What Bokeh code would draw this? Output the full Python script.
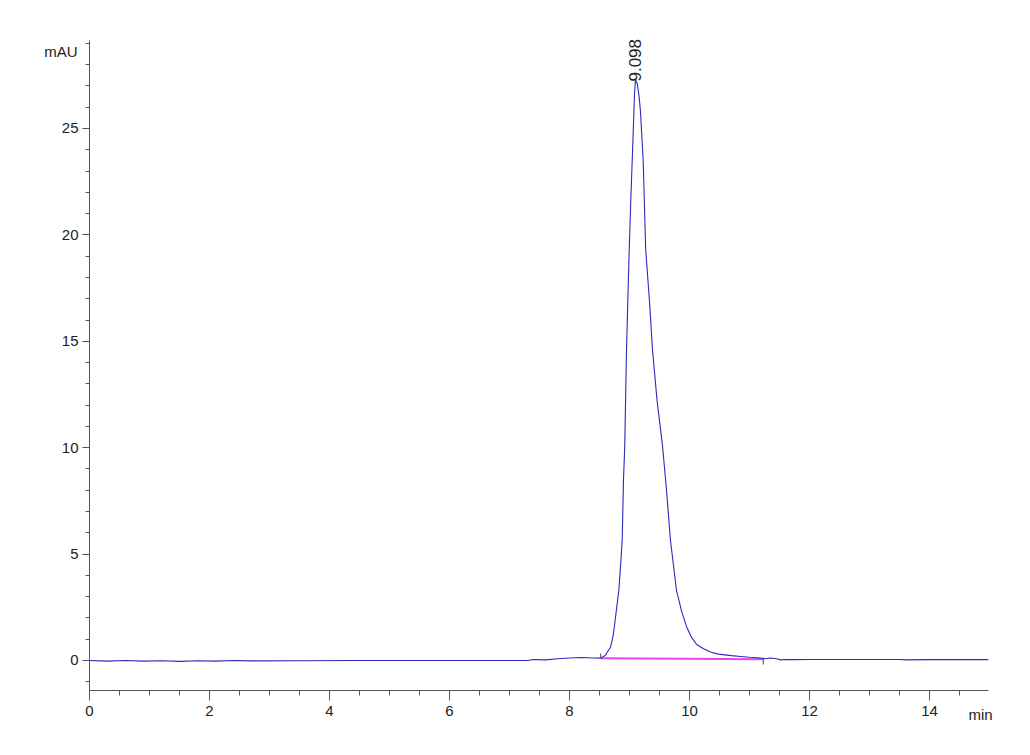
import math
from bokeh.plotting import figure
from bokeh.models import SingleIntervalTicker, Range1d
from bokeh.core.properties import value
from bokeh.embed import file_html
from bokeh.resources import INLINE

# ---- data ----
time_min = [0.0, 0.3, 0.6, 0.9, 1.2, 1.5, 1.8, 2.1, 2.4, 2.7, 3.5, 4.5, 5.5, 6.5, 7.3,
            7.4, 7.6, 7.8, 8.0, 8.2, 8.4, 8.52, 8.545, 8.6, 8.62, 8.683, 8.73, 8.767,
            8.80, 8.822, 8.85, 8.878, 8.90, 8.92, 8.95, 8.99, 9.02, 9.045, 9.07, 9.083,
            9.10, 9.13, 9.16, 9.183, 9.228, 9.27, 9.333, 9.383, 9.46, 9.55, 9.617,
            9.683, 9.783, 9.87, 9.95, 10.03, 10.12, 10.233, 10.35, 10.48, 10.7, 10.85,
            11.0, 11.18, 11.25, 11.35, 11.45, 11.52, 11.6, 11.7, 12.0, 13.0, 13.5,
            13.6, 14.0, 14.98]
signal_mau = [0.0, -0.03, 0.0, -0.03, -0.01, -0.04, -0.01, -0.03, 0.0, -0.02, -0.01, 0.0,
              0.0, 0.0, 0.0, 0.05, 0.03, 0.08, 0.12, 0.14, 0.12, 0.11, 0.15, 0.25, 0.35,
              0.62, 1.2, 2.03, 2.8, 3.29, 4.4, 5.64, 8.5, 10.0, 14.57, 18.8, 21.5, 23.5,
              25.5, 26.6, 27.3, 27.1, 26.5, 25.8, 23.5, 19.3, 16.9, 14.6, 12.2, 10.1,
              8.0, 5.64, 3.29, 2.3, 1.6, 1.1, 0.75, 0.55, 0.4, 0.3, 0.23, 0.19, 0.15,
              0.11, 0.08, 0.12, 0.08, 0.03, 0.05, 0.04, 0.05, 0.05, 0.05, 0.03, 0.04,
              0.04]

baseline_x = [8.52, 11.22]
baseline_y = [0.11, 0.06]

event_x = [8.52, 11.23]
event_y0 = [0.13, 0.14]
event_y1 = [0.33, -0.19]

peak_rt = 9.098
peak_height = 27.3
peak_label = "9.098"

x_axis_span = (0.0, 14.99)
y_axis_span = (-1.41, 29.14)

FONT = "Liberation Sans"
TXT = "#222222"
AX = "#555555"

# frame deliberately larger than the axes so unit labels are not clipped
p = figure(frame_width=970, frame_height=703, output_backend="svg",
           toolbar_location=None,
           x_range=Range1d(-0.8167, 15.35), y_range=Range1d(-2.961, 30.075),
           min_border_left=40, min_border_right=10, min_border_top=20,
           min_border_bottom=0)
p.outline_line_color = None
p.xgrid.visible = False
p.ygrid.visible = False
p.background_fill_color = "white"

# axes, pinned to the data origin / bottom of the scale
p.xaxis.fixed_location = y_axis_span[0]
p.yaxis.fixed_location = x_axis_span[0]
p.xaxis.bounds = x_axis_span
p.yaxis.bounds = y_axis_span
p.xaxis.ticker = SingleIntervalTicker(interval=2, num_minor_ticks=4)
p.yaxis.ticker = SingleIntervalTicker(interval=5, num_minor_ticks=5)
for ax in (p.xaxis, p.yaxis):
    ax.axis_line_color = AX
    ax.major_tick_line_color = AX
    ax.minor_tick_line_color = AX
    ax.major_tick_in = 0
    ax.minor_tick_in = 0
    ax.major_label_text_font = FONT
    ax.major_label_text_font_size = "15px"
    ax.major_label_text_color = TXT
p.xaxis.major_tick_out = 10
p.xaxis.minor_tick_out = 5
p.xaxis.major_label_standoff = 6
p.yaxis.major_tick_out = 7
p.yaxis.minor_tick_out = 4
p.yaxis.major_label_standoff = 4

# integration baseline
p.line(baseline_x, baseline_y, line_color="#ee44ee", line_width=2)
# trace
p.line(time_min, signal_mau, line_color="#2b2bb8", line_width=1.1)
# event markers
p.segment(x0=event_x, y0=event_y0, x1=event_x, y1=event_y1, line_color="#444444",
          line_width=1)

# peak label
p.text(x=[peak_rt], y=[peak_height], text=[peak_label], angle=math.pi / 2,
       text_align="left", text_baseline="middle", text_font=value(FONT),
       text_font_size="17px", text_color=TXT, y_offset=2)

# unit labels, placed beside the axis ends like tick labels
p.text(x=[x_axis_span[0]], y=[28.62], text=["mAU"], text_align="right",
       text_baseline="middle", text_font=value(FONT), text_font_size="15px",
       text_color=TXT, x_offset=-12)
p.text(x=[14.85], y=[y_axis_span[0]], text=["min"], text_align="center",
       text_baseline="middle", text_font=value(FONT), text_font_size="15px",
       text_color=TXT, y_offset=24)

open("out.html", "w").write(file_html(p, INLINE))
